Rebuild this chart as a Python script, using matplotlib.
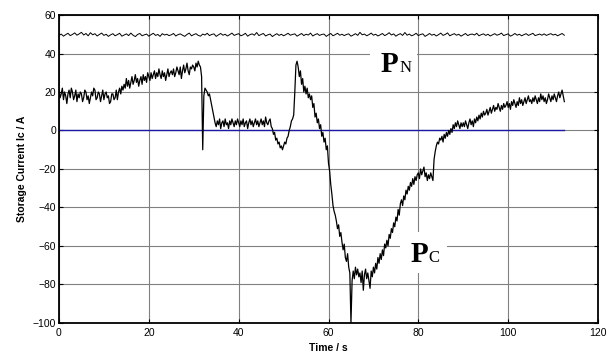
import numpy as np
import matplotlib.pyplot as plt

plt.rcParams['font.family'] = ['Liberation Sans', 'DejaVu Sans']

# storage current P_C, one sample every 0.25 s
pc = [21, 17, 19, 22, 16, 20, 18, 14, 19, 21, 17, 22, 20, 16, 18, 21, 15, 19, 17, 20,
      19, 15, 17, 21, 20, 16, 18, 14, 17, 20, 18, 22, 21, 16, 17, 20, 19, 15, 18, 21,
      16, 19, 20, 17, 18, 14, 15, 19, 19, 16, 17, 21, 16, 20, 22, 19, 23, 21, 24, 22,
      27, 23, 26, 22, 25, 28, 24, 26, 29, 25, 27, 23, 26, 28, 24, 29, 26, 28, 25, 30,
      28, 26, 30, 27, 29, 31, 27, 30, 28, 32, 29, 27, 31, 28, 30, 26, 29, 32, 28, 30,
      31, 29, 32, 28, 30, 33, 31, 29, 33, 27, 31, 34, 30, 32, 35, 31, 29, 33, 32, 34,
      33, 31, 35, 33, 36, 34, 33, 28, -10, 18, 22, 21, 20, 18, 19, 16, 13, 10, 7, 4,
      2, 5, 3, 6, 1, 4, 5, 2, 6, 3, 4, 1, 5, 3, 6, 4, 2, 5, 3, 6,
      4, 2, 5, 3, 6, 2, 4, 5, 1, 4, 6, 3, 5, 2, 4, 6, 3, 5, 2, 4,
      6, 3, 5, 2, 7, 4, 3, 5, 6, 2, 1, -2, -1, -5, -4, -7, -6, -9, -8, -10,
      -8, -6, -7, -4, -3, 0, 2, 5, 6, 8, 20, 34, 36, 33, 28, 31, 24, 27, 20, 23,
      19, 22, 17, 19, 16, 18, 12, 14, 7, 9, 4, 6, 1, 3, -3, -1, -6, -4, -10, -8,
      -17, -21, -28, -33, -39, -42, -44, -47, -51, -49, -55, -53, -58, -62, -59, -66, -68, -64, -71, -74,
      -100, -78, -73, -77, -71, -75, -72, -76, -74, -79, -73, -83, -75, -72, -77, -74, -78, -82, -73, -76,
      -71, -74, -69, -72, -66, -69, -64, -67, -62, -65, -59, -61, -57, -60, -54, -56, -51, -53, -48, -50,
      -45, -47, -41, -44, -38, -36, -39, -34, -36, -31, -33, -29, -31, -27, -29, -25, -28, -24, -26, -23,
      -22, -25, -20, -23, -21, -19, -24, -22, -26, -23, -25, -22, -24, -26, -15, -11, -8, -6, -7, -4,
      -5, -3, -6, -2, -4, -1, -3, 0, -2, 1, -1, 3, 1, 4, 2, 5, 3, 1, 4, 2,
      4, 2, 5, 3, 1, 4, 6, 3, 5, 2, 6, 4, 7, 5, 8, 6, 9, 7, 10, 8,
      9, 11, 8, 10, 12, 9, 11, 13, 10, 12, 11, 14, 12, 10, 13, 11, 14, 12, 13, 15,
      12, 14, 11, 15, 13, 16, 14, 12, 15, 13, 17, 14, 16, 13, 15, 17, 14, 16, 18, 15,
      16, 14, 17, 15, 18, 16, 14, 17, 15, 19, 16, 18, 15, 17, 14, 16, 19, 17, 15, 18,
      16, 19, 17, 15, 18, 20, 17, 19, 21, 18, 15]

# P_N, one sample every 0.5 s
pn = [49.4, 50.1, 49.0, 49.8, 50.5, 49.3, 49.9, 50.7, 49.5, 50.2,
      51.0, 49.6, 50.4, 49.2, 50.8, 49.7, 50.3, 49.1, 49.9, 50.6,
      49.4, 50.0, 48.9, 49.7, 50.3, 49.2, 49.8, 50.5, 49.0, 49.6,
      50.2, 49.3, 50.6, 49.5, 48.8, 49.9, 50.4, 49.2, 49.7, 50.1,
      49.0, 49.8, 50.5, 49.4, 49.9, 48.9, 50.3, 49.6, 50.0, 49.3,
      49.7, 50.4, 49.1, 49.8, 50.2, 49.5, 48.9, 49.9, 50.6, 49.2,
      49.8, 50.3, 49.4, 49.0, 50.1, 49.6, 50.5, 49.3, 49.9, 50.2,
      48.9, 49.7, 50.4, 49.5, 50.0, 49.1, 49.8, 50.6, 49.4, 49.9,
      50.3, 49.2, 49.7, 50.5, 49.0, 49.8, 50.2, 49.5, 50.9, 49.3,
      49.9, 50.4, 49.1, 49.7, 50.1, 48.8, 49.6, 50.3, 49.4, 50.0,
      49.2, 49.8, 50.5, 49.5, 49.9, 50.2, 49.0, 49.7, 50.4, 49.3,
      50.0, 49.6, 50.6, 49.1, 49.8, 50.3, 49.4, 49.9, 50.1, 48.9,
      49.7, 50.4, 49.2, 49.8, 50.5, 49.5, 50.0, 49.3, 49.9, 50.2,
      49.0, 49.6, 50.3, 49.4, 51.0, 49.7, 50.1, 49.2, 49.8, 50.6,
      49.5, 50.0, 49.1, 49.7, 50.4, 49.3, 49.9, 50.8, 49.6, 50.2,
      49.0, 49.8, 50.3, 49.4, 50.9, 49.5, 50.1, 49.2, 49.7, 50.5,
      49.3, 49.9, 50.2, 48.9, 49.6, 50.4, 49.5, 50.0, 49.1, 49.8,
      50.6, 49.4, 49.9, 50.7, 49.2, 49.8, 50.3, 49.5, 50.0, 49.0,
      49.7, 50.4, 49.3, 49.9, 50.1, 49.6, 50.5, 49.2, 49.8, 50.2,
      49.4, 50.0, 49.1, 49.7, 50.3, 49.5, 49.9, 50.6, 49.3, 49.8,
      50.2, 49.0, 49.6, 50.4, 49.5, 50.0, 49.2, 49.8, 50.3, 49.4,
      49.9, 50.5, 49.3, 49.7, 50.1, 49.5, 50.2, 49.4, 49.9, 50.3,
      49.6, 50.0, 49.2, 49.8, 50.4, 49.5]

xticks = [0, 20, 40, 60, 80, 100, 120]
yticks = [-100, -80, -60, -40, -20, 0, 20, 40, 60]

t_pc = np.arange(len(pc)) * 0.25
t_pn = np.arange(len(pn)) * 0.5

fig = plt.figure(figsize=(6.08, 3.53), dpi=100)
ax = fig.add_axes([0.097, 0.085, 0.8866, 0.8725])

ax.plot(t_pc, np.zeros(len(t_pc)), color='#1a1aa6', lw=1.0, zorder=2)
ax.plot(t_pn, pn, color='black', lw=0.7, zorder=3)
ax.plot(t_pc, pc, color='black', lw=0.9, zorder=3)

ax.set_xlim(0, 120)
ax.set_ylim(-100, 60)
ax.set_xticks(xticks)
ax.set_yticks(yticks)
ax.grid(True, color='#808080', lw=0.8)
ax.set_axisbelow(True)
ax.tick_params(direction='in', length=3, width=0.8, top=True, right=True,
               labelsize=7.5, pad=2)
ax.tick_params(axis='x', pad=3.5)
for s in ax.spines.values():
    s.set_linewidth(1.3)

ax.set_xlabel('Time / s', fontsize=7.5, fontweight='bold', labelpad=3.5)
ax.set_ylabel('Storage Current Ic / A', fontsize=7.5, fontweight='bold', labelpad=4)

# white label boxes, then the labels
ax.add_patch(plt.Rectangle((69.3, 24.7), 10.4, 21.3, fc='white', ec='none', zorder=2.5))
ax.add_patch(plt.Rectangle((75.9, -74), 10.5, 21.3, fc='white', ec='none', zorder=2.5))
ax.text(71.5, 30.4, 'P', family='Liberation Serif', fontweight='bold', fontsize=21, zorder=4)
ax.text(75.9, 30.4, 'N', family='Liberation Serif', fontsize=12, zorder=4)
ax.text(78.2, -68.3, 'P', family='Liberation Serif', fontweight='bold', fontsize=21, zorder=4)
ax.text(82.2, -68.3, 'C', family='Liberation Serif', fontsize=12, zorder=4)

fig.savefig('out.png', dpi=100)
